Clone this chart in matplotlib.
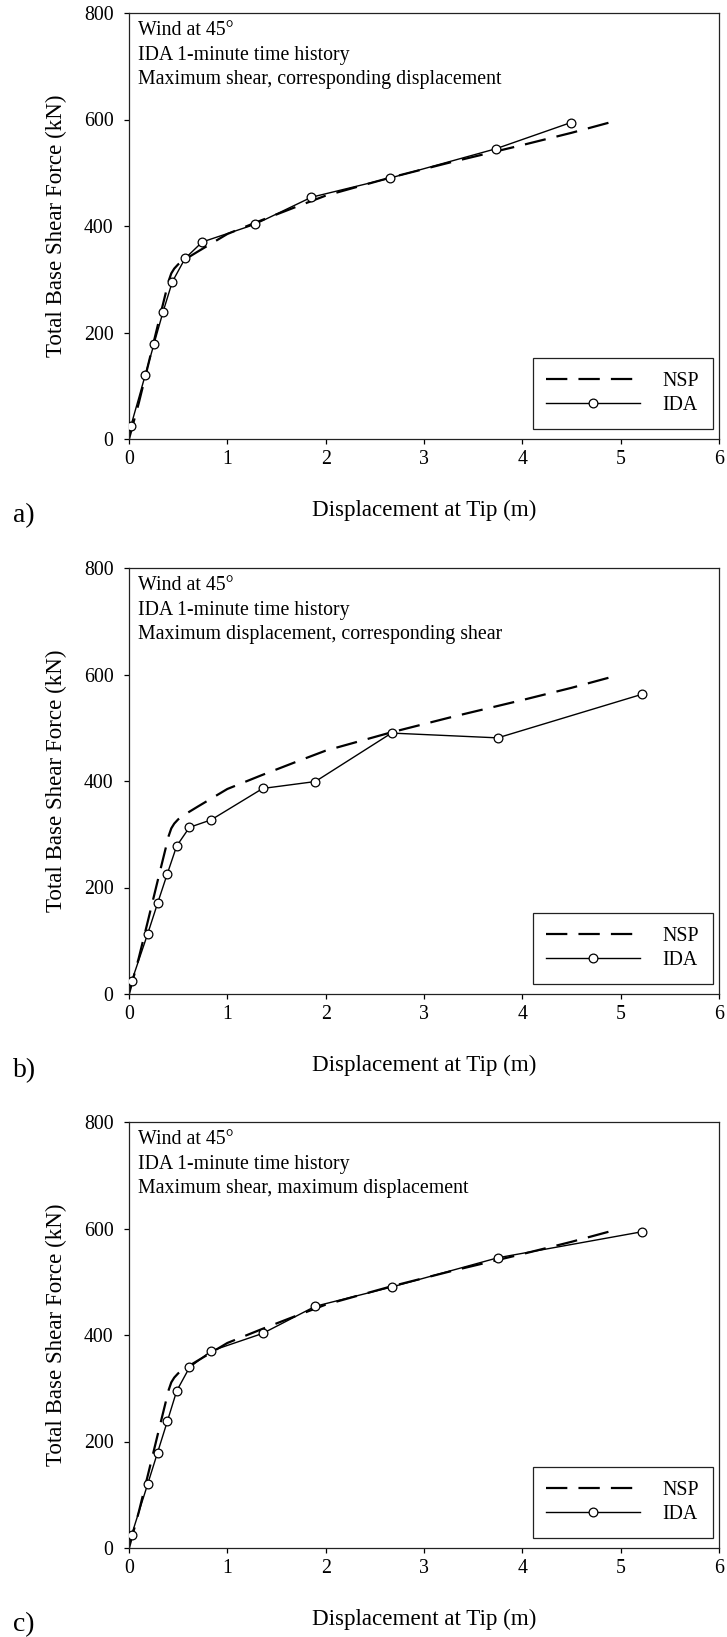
import matplotlib
matplotlib.use("Agg")
import matplotlib.pyplot as plt
from matplotlib.lines import Line2D

plt.rcParams["font.family"] = ["Liberation Serif", "DejaVu Serif"]

# Pushover (NSP) capacity curve, shared by all three panels
nsp_disp = [0.0, 0.1, 0.2, 0.3, 0.38, 0.40, 0.43, 0.46, 0.50, 0.55, 0.62,
            0.70, 0.80, 1.00, 1.35, 1.70, 2.00, 2.66, 3.30, 4.00, 4.50, 4.90]
nsp_shear = [0, 68, 143, 219, 279, 295, 311, 320, 328, 335, 343,
             352, 363, 385, 411, 436, 457, 491, 521, 552, 575, 595]

# IDA results, 1-minute time history
ida_a_disp = [0.02, 0.165, 0.255, 0.345, 0.44, 0.57, 0.745, 1.28, 1.855, 2.655, 3.73, 4.49]
ida_a_shear = [25, 120, 179, 238, 295, 339, 370, 403, 454, 490, 545, 594]

ida_b_disp = [0.027, 0.19, 0.29, 0.39, 0.485, 0.615, 0.835, 1.36, 1.895, 2.67, 3.75, 5.22]
ida_b_shear = [24, 113, 170, 226, 278, 313, 327, 386, 399, 490, 481, 563]

ida_c_disp = [0.027, 0.19, 0.29, 0.39, 0.485, 0.615, 0.835, 1.36, 1.895, 2.67, 3.75, 5.22]
ida_c_shear = [25, 120, 179, 238, 295, 339, 370, 403, 454, 490, 545, 594]

panel_letters = ["a)", "b)", "c)"]
panel_notes = [
    ["Wind at 45\u00b0", "IDA 1-minute time history",
     "Maximum shear, corresponding displacement"],
    ["Wind at 45\u00b0", "IDA 1-minute time history",
     "Maximum displacement, corresponding shear"],
    ["Wind at 45\u00b0", "IDA 1-minute time history",
     "Maximum shear, maximum displacement"],
]
x_ticks = [0, 1, 2, 3, 4, 5, 6]
y_ticks = [0, 200, 400, 600, 800]

W, H = 727, 1637
fig = plt.figure(figsize=(W / 100, H / 100), dpi=100)

ax_left, ax_width, ax_height = 129, 590, 426
ax_tops = [13, 568, 1122]
ida_sets = [(ida_a_disp, ida_a_shear), (ida_b_disp, ida_b_shear), (ida_c_disp, ida_c_shear)]

TICK_FS = 14.3
LABEL_FS = 16.6
DASH = (9.6, 5.0)

for top, (idx, idy), letter, notes in zip(ax_tops, ida_sets, panel_letters, panel_notes):
    bottom = top + ax_height
    ax = fig.add_axes([ax_left / W, (H - bottom) / H, ax_width / W, ax_height / H])

    ax.plot(nsp_disp, nsp_shear, color="black", lw=1.6, dashes=DASH,
            solid_capstyle="butt", dash_capstyle="butt", zorder=2)
    ax.plot(idx, idy, color="black", lw=1.0, marker="o", ms=6.3,
            mfc="white", mec="black", mew=0.9, zorder=3)

    ax.set_xlim(0, 6)
    ax.set_ylim(0, 800)
    ax.set_xticks(x_ticks)
    ax.set_yticks(y_ticks)
    ax.tick_params(direction="out", length=3.6, width=0.9, labelsize=TICK_FS,
                   top=False, right=False)
    ax.tick_params(axis="y", pad=7.5)
    ax.tick_params(axis="x", pad=4)
    for sp in ax.spines.values():
        sp.set_linewidth(0.9)
        sp.set_color("#222222")

    ax.set_xlabel("Displacement at Tip (m)", fontsize=LABEL_FS)
    ax.xaxis.set_label_coords(0.5, -71 / ax_height)
    ax.xaxis.label.set_va("center")
    ax.set_ylabel("Total Base Shear Force (kN)", fontsize=LABEL_FS)
    ax.yaxis.set_label_coords((56 - ax_left) / ax_width, 0.5)
    ax.yaxis.label.set_va("center")

    for k, line in enumerate(notes):
        off = 17.5 + 24.6 * k
        ax.text(9 / ax_width, 1 - off / ax_height, line, transform=ax.transAxes,
                ha="left", va="center", fontsize=TICK_FS)

    handles = [
        Line2D([], [], color="black", lw=1.6, dashes=DASH, dash_capstyle="butt"),
        Line2D([], [], color="black", lw=1.0, marker="o", ms=6.3,
               mfc="white", mec="black", mew=0.9),
    ]
    leg = ax.legend(handles, ["NSP", "IDA"], loc="lower right",
                    bbox_to_anchor=(1 - 6 / ax_width, 10 / ax_height),
                    borderaxespad=0, fontsize=TICK_FS, handlelength=4.7,
                    handletextpad=1.15, borderpad=0.7, labelspacing=0.25,
                    numpoints=1, fancybox=False, framealpha=1,
                    edgecolor="#222222")
    leg.get_frame().set_linewidth(0.9)

    fig.text(13 / W, 1 - (bottom + 77) / H, letter, ha="left", va="center",
             fontsize=20)

fig.savefig("out.png", dpi=100)
